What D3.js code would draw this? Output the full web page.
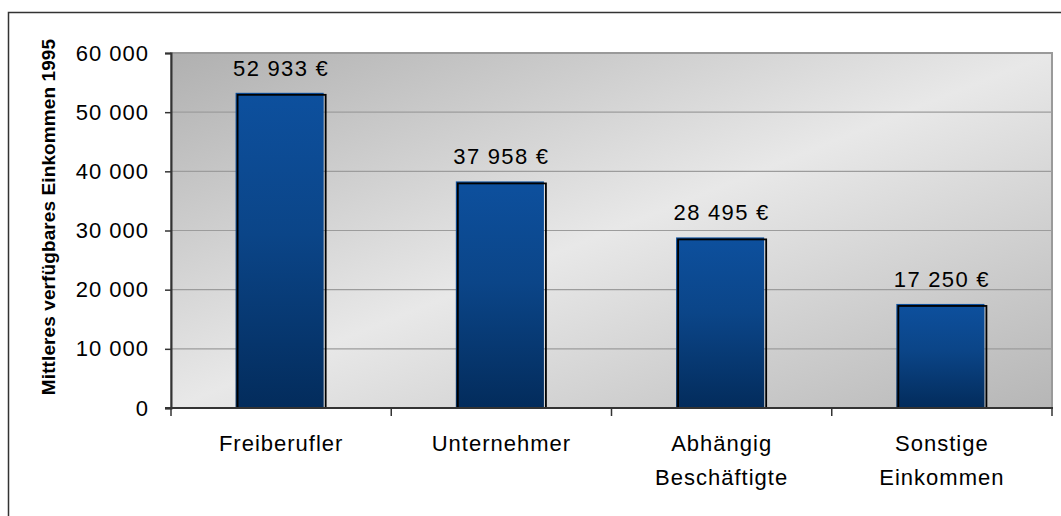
<!DOCTYPE html>
<html>
<head>
<meta charset="utf-8">
<script src="https://cdn.jsdelivr.net/npm/d3@7"></script>
<style>
body { margin: 0; background: #fff; }
text { font-family: "Liberation Sans", Arial, sans-serif; fill: #000; }
</style>
</head>
<body>
<div id="chart"></div>
<script>
// data
var categories = [["Freiberufler"], ["Unternehmer"], ["Abhängig", "Beschäftigte"], ["Sonstige", "Einkommen"]];
var values = [52933, 37958, 28495, 17250];
var valueLabels = ["52 933 €", "37 958 €", "28 495 €", "17 250 €"];
var yTicks = [0, 10000, 20000, 30000, 40000, 50000, 60000];
var yTitle = "Mittleres verfügbares Einkommen 1995";

var W = 1061, H = 516;
var margin = {top: 53, right: 9, bottom: 108, left: 171},
	width = W - margin.left - margin.right,
	height = H - margin.top - margin.bottom;

var svg = d3.select("#chart").append("svg")
	.attr("width", W)
	.attr("height", H);

var defs = svg.append("defs");
var bg = defs.append("linearGradient").attr("id", "bg")
	.attr("x1", "0%").attr("y1", "0%").attr("x2", "100%").attr("y2", "100%");
bg.append("stop").attr("offset", "0%").attr("stop-color", "#b0b0b0");
bg.append("stop").attr("offset", "50%").attr("stop-color", "#e8e8e8");
bg.append("stop").attr("offset", "100%").attr("stop-color", "#b6b6b6");

var barGrad = defs.append("linearGradient").attr("id", "bar")
	.attr("x1", "0").attr("y1", "0").attr("x2", "0").attr("y2", "1");
barGrad.append("stop").attr("offset", "0%").attr("stop-color", "#0d509e");
barGrad.append("stop").attr("offset", "45%").attr("stop-color", "#0b4588");
barGrad.append("stop").attr("offset", "100%").attr("stop-color", "#032c5c");

// outer frame
svg.append("rect")
	.attr("x", 8.5).attr("y", 12.5)
	.attr("width", W).attr("height", H)
	.attr("fill", "none").attr("stroke", "#333").attr("stroke-width", 1.5);

var g = svg.append("g")
	.attr("transform", "translate(" + margin.left + "," + margin.top + ")");

var x = d3.scaleBand().domain(d3.range(categories.length)).range([0, width]).paddingInner(0.6).paddingOuter(0.3);
var xCat = d3.scaleBand().domain(d3.range(categories.length)).range([0, width]);
var y = d3.scaleLinear().domain([0, 60000]).range([height, 0]);

// plot background
g.append("rect")
	.attr("width", width).attr("height", height)
	.attr("fill", "url(#bg)")
	.attr("stroke", "#9a9a9a").attr("stroke-width", 2);

// gridlines
g.append("g").selectAll("line")
	.data(yTicks.filter(function(d) { return d > 0 && d < 60000; }))
	.enter().append("line")
	.attr("x1", 0).attr("x2", width)
	.attr("y1", function(d) { return y(d); })
	.attr("y2", function(d) { return y(d); })
	.attr("stroke", "#9c9c9c").attr("stroke-width", 1.2);

// bars: blue fill, outline offset slightly
var bars = g.append("g").selectAll("g")
	.data(values)
	.enter().append("g");
bars.append("rect")
	.attr("x", function(d, i) { return x(i) - 1.5; })
	.attr("y", function(d) { return y(d) - 2; })
	.attr("width", x.bandwidth())
	.attr("height", function(d) { return height - y(d) + 1; })
	.attr("fill", "url(#bar)");
bars.append("rect")
	.attr("x", function(d, i) { return x(i) + 0.5; })
	.attr("y", function(d) { return y(d); })
	.attr("width", x.bandwidth())
	.attr("height", function(d) { return height - y(d); })
	.attr("fill", "none")
	.attr("stroke", "#000").attr("stroke-width", 1.8);

// value labels
g.append("g").selectAll("text")
	.data(values)
	.enter().append("text")
	.attr("x", function(d, i) { return x(i) + x.bandwidth() / 2; })
	.attr("y", function(d) { return y(d) - 19; })
	.attr("text-anchor", "middle")
	.style("font-size", "22px")
	.style("letter-spacing", "1.3px")
	.text(function(d, i) { return valueLabels[i]; });

// y axis
var yAxis = d3.axisLeft(y).tickValues(yTicks).tickSize(6).tickPadding(16)
	.tickFormat(function(d) { return d3.format(",")(d).replace(/,/g, " "); });
var ya = g.append("g").call(yAxis);
ya.select(".domain").attr("stroke", "#333").attr("stroke-width", 2);
ya.selectAll(".tick line").attr("stroke", "#333").attr("stroke-width", 1.5);
ya.selectAll("text").style("font-size", "22px").style("letter-spacing", "1px")
	.attr("fill", "#000").attr("font-family", null);

// x axis
var xa = g.append("g").attr("transform", "translate(0," + height + ")");
xa.append("line").attr("x1", -6).attr("x2", width + 1).attr("y1", 0).attr("y2", 0)
	.attr("stroke", "#333").attr("stroke-width", 2);
xa.selectAll(".xt")
	.data(d3.range(categories.length + 1))
	.enter().append("line")
	.attr("x1", function(i) { return i * xCat.step(); })
	.attr("x2", function(i) { return i * xCat.step(); })
	.attr("y1", 0).attr("y2", 8)
	.attr("stroke", "#333").attr("stroke-width", 1.5);
var xl = xa.selectAll(".xl")
	.data(categories)
	.enter().append("text")
	.attr("text-anchor", "middle")
	.attr("transform", function(d, i) { return "translate(" + (xCat(i) + xCat.bandwidth() / 2) + ",0)"; })
	.style("font-size", "22px")
	.style("letter-spacing", "1px");
xl.selectAll("tspan")
	.data(function(d) { return d; })
	.enter().append("tspan")
	.attr("x", 0)
	.attr("y", function(d, j) { return 43 + j * 34; })
	.text(function(d) { return d; });

// y axis title
svg.append("text")
	.attr("transform", "translate(55,217) rotate(-90)")
	.attr("text-anchor", "middle")
	.style("font-size", "19px")
	.style("font-weight", "bold")
	.style("letter-spacing", "0.1px")
	.text(yTitle);
</script>
</body>
</html>
